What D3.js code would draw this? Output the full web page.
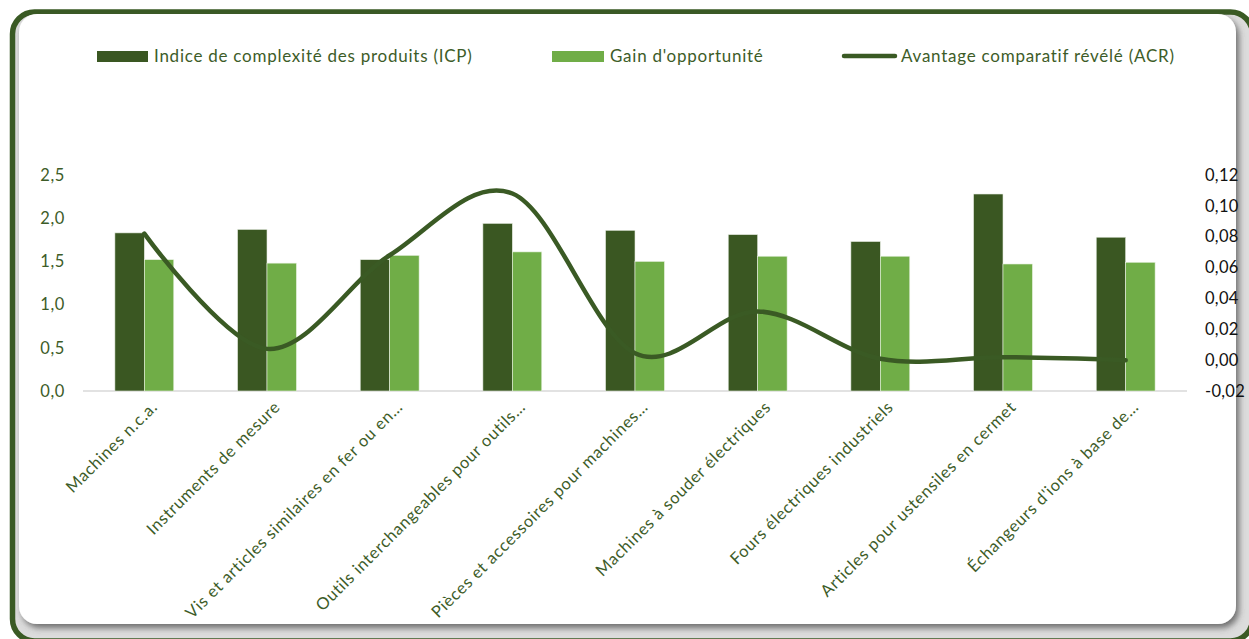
<!DOCTYPE html>
<html lang="fr">
<head>
<meta charset="utf-8">
<script src="https://cdn.jsdelivr.net/npm/d3@7"></script>
<style>
  html, body { margin: 0; padding: 0; background: #fff; }
  svg { display: block; font-family: "Lato", "Open Sans", sans-serif; }
</style>
</head>
<body>
<svg id="chart" width="1249" height="639"></svg>
<script>
// Product categories shown on the x axis
const categories = [
  "Machines n.c.a.",
  "Instruments de mesure",
  "Vis et articles similaires en fer ou en…",
  "Outils interchangeables pour outils…",
  "Pièces et accessoires pour machines…",
  "Machines à souder électriques",
  "Fours électriques industriels",
  "Articles pour ustensiles en cermet",
  "Échangeurs d'ions à base de…"
];
// Product complexity index (left axis)
const icp = [1.83, 1.87, 1.52, 1.94, 1.86, 1.81, 1.73, 2.28, 1.78];
// Opportunity gain (left axis)
const gain = [1.52, 1.48, 1.57, 1.61, 1.50, 1.56, 1.56, 1.47, 1.49];
// Revealed comparative advantage (right axis)
const acr = [0.082, 0.0073, 0.068, 0.108, 0.0045, 0.0316, 0.0009, 0.0019, 0.0];

const leftTicks = [0, 0.5, 1.0, 1.5, 2.0, 2.5];
const rightTicks = [-0.02, 0, 0.02, 0.04, 0.06, 0.08, 0.10, 0.12];

const seriesNames = ["Indice de complexité des produits (ICP)", "Gain d'opportunité", "Avantage comparatif révélé (ACR)"];

const DARK = "#3a5722";
const LIGHT = "#70ad47";
const TEXT = "#3d5c28";

const svg = d3.select("#chart");

// ---- Frame -------------------------------------------------------------
const defs = svg.append("defs");
const sh = defs.append("filter").attr("id", "panelShadow")
  .attr("x", "-5%").attr("y", "-5%").attr("width", "110%").attr("height", "110%");
sh.append("feDropShadow").attr("dx", 3).attr("dy", 4).attr("stdDeviation", 3)
  .attr("flood-color", "#4a4a4a").attr("flood-opacity", 0.75);

svg.append("rect").attr("x", 12.5).attr("y", 12).attr("width", 1240).attr("height", 629)
  .attr("rx", 22).attr("fill", "#dcdcdc").attr("stroke", "#3a5a24").attr("stroke-width", 5.5);
svg.append("rect").attr("x", 19).attr("y", 14).attr("width", 1217).attr("height", 610)
  .attr("rx", 18).attr("fill", "#fff").attr("filter", "url(#panelShadow)");

// ---- Scales ------------------------------------------------------------
const x0 = d3.scaleBand().domain(categories).range([83, 1187])
  .paddingInner(0.52).paddingOuter(0.26);
const x1 = d3.scaleBand().domain([0, 1]).range([0, x0.bandwidth()]);
const yL = d3.scaleLinear().domain([0, 2.5]).range([391, 175]);
const yR = d3.scaleLinear().domain([-0.02, 0.12]).range([391, 175]);

const loc = d3.formatLocale({ decimal: ",", thousands: " ", grouping: [3], currency: ["", "€"], minus: "-" });
const fmtL = loc.format(".1f");
const fmtR = loc.format(".2f");

// ---- Axes --------------------------------------------------------------
const axL = svg.append("g").attr("transform", "translate(65,0)")
  .call(d3.axisLeft(yL).tickValues(leftTicks).tickFormat(fmtL).tickSize(0).tickPadding(0));
axL.select(".domain").remove();
axL.selectAll("text").attr("fill", TEXT).style("font-size", "16.5px")
  .style("font-family", "Lato, sans-serif").style("letter-spacing", "0.6px");

const axR = svg.append("g").attr("transform", "translate(1205,0)")
  .call(d3.axisRight(yR).tickValues(rightTicks).tickFormat(fmtR).tickSize(0).tickPadding(0));
axR.select(".domain").remove();
axR.selectAll("text").attr("fill", "#111").style("font-size", "16.5px")
  .style("font-family", "Lato, sans-serif").style("letter-spacing", "0.3px");

// baseline
svg.append("line").attr("x1", 83).attr("x2", 1187).attr("y1", yL(0)).attr("y2", yL(0))
  .attr("stroke", "#d9d9d9").attr("stroke-width", 1.5);

// ---- Bars --------------------------------------------------------------
const groups = svg.append("g").selectAll("g").data(categories).join("g")
  .attr("transform", d => `translate(${x0(d)},0)`);
groups.append("rect")
  .attr("x", x1(0)).attr("width", x1.bandwidth())
  .attr("y", (d, i) => yL(icp[i])).attr("height", (d, i) => yL(0) - yL(icp[i]))
  .attr("fill", DARK).attr("stroke", "#e6ece2").attr("stroke-width", 0.6);
groups.append("rect")
  .attr("x", x1(1)).attr("width", x1.bandwidth())
  .attr("y", (d, i) => yL(gain[i])).attr("height", (d, i) => yL(0) - yL(gain[i]))
  .attr("fill", LIGHT).attr("stroke", "#e9f2e3").attr("stroke-width", 0.6);

// ---- Smoothed ACR line -------------------------------------------------
const line = d3.line()
  .x((d, i) => x0(categories[i]) + x0.bandwidth() / 2)
  .y(d => yR(d))
  .curve(d3.curveCatmullRom.alpha(0));
svg.append("path").datum(acr).attr("d", line)
  .attr("fill", "none").attr("stroke", "#3a5a24").attr("stroke-width", 4.5)
  .attr("stroke-linecap", "round").attr("stroke-linejoin", "round");

// ---- Category labels ---------------------------------------------------
svg.append("g").selectAll("text").data(categories).join("text")
  .attr("transform", d => `translate(${x0(d) + x0.bandwidth() / 2 + 10},404) rotate(-45)`)
  .attr("text-anchor", "end").attr("dy", "0.35em")
  .attr("fill", TEXT).style("font-size", "16.5px").style("letter-spacing", "0.7px")
  .text(d => d);

// ---- Legend ------------------------------------------------------------
const leg = svg.append("g").style("font-size", "17px").style("letter-spacing", "0.75px").attr("fill", TEXT);
leg.append("rect").attr("x", 97).attr("y", 51).attr("width", 51).attr("height", 11).attr("fill", DARK);
leg.append("text").attr("x", 154).attr("y", 62).text(seriesNames[0]);
leg.append("rect").attr("x", 552).attr("y", 51).attr("width", 52).attr("height", 11).attr("fill", LIGHT);
leg.append("text").attr("x", 610).attr("y", 62).text(seriesNames[1]);
leg.append("line").attr("x1", 844).attr("x2", 895).attr("y1", 56).attr("y2", 56)
  .attr("stroke", "#3a5a24").attr("stroke-width", 4.5).attr("stroke-linecap", "round");
leg.append("text").attr("x", 901).attr("y", 62).text(seriesNames[2]);
</script>
</body>
</html>
